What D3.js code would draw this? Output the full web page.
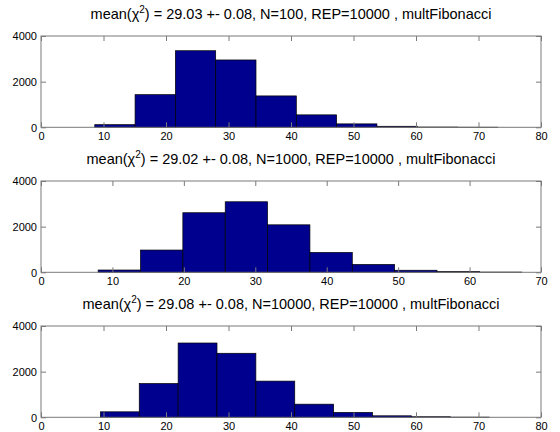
<!DOCTYPE html>
<html>
<head>
<meta charset="utf-8">
<script src="https://cdn.jsdelivr.net/npm/d3@7"></script>
<style>
body { margin: 0; background: #fff; }
text { font-family: Arial, "Liberation Sans", sans-serif; fill: #000; }
</style>
</head>
<body>
<svg width="560" height="432"></svg>
<script>
// title pieces that change per panel
var titleMeans = ["29.03", "29.02", "29.08"];
var titleN = ["100", "1000", "10000"];

// bin edges
var edges1 = [8.6, 15.05, 21.5, 27.95, 34.4, 40.85, 47.3, 53.75, 60.2, 66.65, 73.1];
var edges2 = [8.0, 13.93, 19.86, 25.79, 31.72, 37.65, 43.58, 49.51, 55.44, 61.37, 67.3];
var edges3 = [9.5, 15.72, 21.94, 28.16, 34.38, 40.6, 46.82, 53.04, 59.26, 65.48, 71.7];

// counts per bin
var counts1 = [115, 1430, 3355, 2950, 1375, 545, 150, 45, 12, 4];
var counts2 = [100, 975, 2610, 3090, 2080, 870, 345, 90, 30, 10];
var counts3 = [240, 1480, 3255, 2805, 1585, 575, 215, 65, 25, 8];

var xMax = [80, 70, 80];
var xTicks1 = [0, 10, 20, 30, 40, 50, 60, 70, 80];
var xTicks2 = [0, 10, 20, 30, 40, 50, 60, 70];
var yTicks = [0, 2000, 4000];

var panels = [
    {edges: edges1, counts: counts1, xmax: xMax[0], xticks: xTicks1, mean: titleMeans[0], n: titleN[0]},
    {edges: edges2, counts: counts2, xmax: xMax[1], xticks: xTicks2, mean: titleMeans[1], n: titleN[1]},
    {edges: edges3, counts: counts3, xmax: xMax[2], xticks: xTicks1, mean: titleMeans[2], n: titleN[2]}
];

var svg = d3.select("svg"),
    left = 41, right = 541,
    tops = [36, 181, 326],
    h = 91.3,
    axisColor = "#7a7a7a",
    barFill = "#00008f";

panels.forEach(function(p, i) {
    var g = svg.append("g").attr("transform", "translate(0," + tops[i] + ")");

    var x = d3.scaleLinear().domain([0, p.xmax]).range([left, right]),
        y = d3.scaleLinear().domain([0, 4000]).range([h, 0]);

    var bins = p.counts.map(function(c, k) { return {lo: p.edges[k], hi: p.edges[k + 1], c: c}; });

    g.selectAll(".bar")
        .data(bins)
        .enter().append("rect")
        .attr("class", "bar")
        .attr("x", function(d) { return x(d.lo); })
        .attr("y", function(d) { return y(d.c); })
        .attr("width", function(d) { return x(d.hi) - x(d.lo); })
        .attr("height", function(d) { return y(0) - y(d.c); })
        .attr("fill", barFill)
        .attr("stroke", "#000")
        .attr("stroke-width", 0.7);

    // matlab style: ticks inside on all four sides, labels only bottom/left
    var xb = g.append("g")
        .attr("transform", "translate(0," + h + ")")
        .call(d3.axisBottom(x).tickValues(p.xticks).tickSizeInner(-5).tickSizeOuter(0).tickPadding(5));
    var xt = g.append("g")
        .call(d3.axisTop(x).tickValues(p.xticks).tickSizeInner(-5).tickSizeOuter(0).tickFormat(""));
    var yl = g.append("g")
        .attr("transform", "translate(" + left + ",0)")
        .call(d3.axisLeft(y).tickValues(yTicks).tickFormat(d3.format("d")).tickSizeInner(-5).tickSizeOuter(0).tickPadding(4));
    var yr = g.append("g")
        .attr("transform", "translate(" + right + ",0)")
        .call(d3.axisRight(y).tickValues(yTicks).tickSizeInner(-5).tickSizeOuter(0).tickFormat(""));

    [xb, xt, yl, yr].forEach(function(a) {
        a.select(".domain").remove();
        a.selectAll("line").attr("stroke", axisColor);
        a.selectAll("text").attr("font-size", 11).attr("font-family", "Arial, 'Liberation Sans', sans-serif").attr("fill", "#000");
    });
    yl.selectAll("text").attr("dy", "0.35em");

    g.append("rect")
        .attr("x", left)
        .attr("y", 0)
        .attr("width", right - left)
        .attr("height", h)
        .attr("fill", "none")
        .attr("stroke", axisColor)
        .attr("stroke-width", 1);

    var t = g.append("text")
        .attr("x", (left + right) / 2)
        .attr("y", -17)
        .attr("text-anchor", "middle")
        .attr("font-size", 14.5);
    t.append("tspan").text("mean(\u03C7");
    t.append("tspan").attr("dy", -6).attr("font-size", 10).text("2");
    t.append("tspan").attr("dy", 6).text(") = " + p.mean + " +- 0.08, N=" + p.n + ", REP=10000 , multFibonacci");
});
</script>
</body>
</html>
